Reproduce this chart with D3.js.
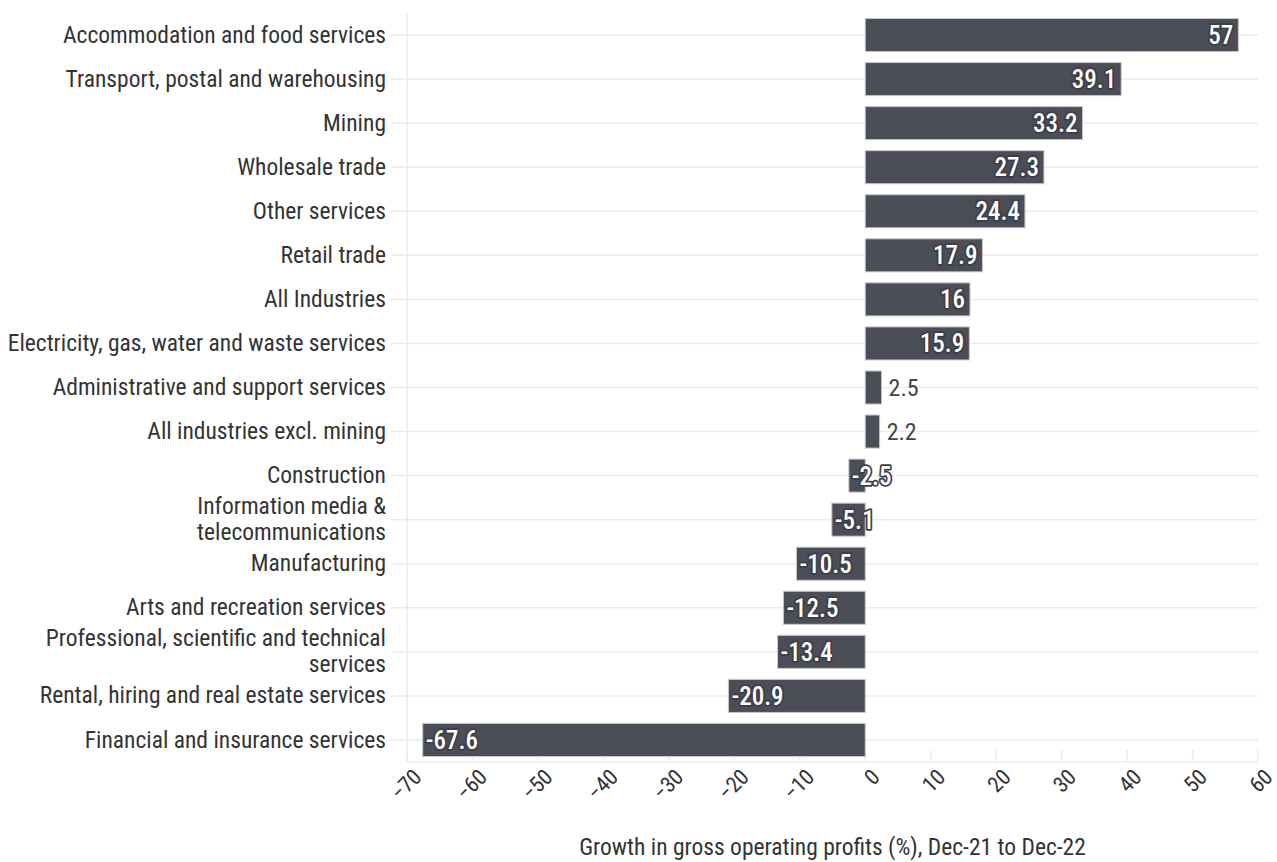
<!DOCTYPE html>
<html>
<head>
<meta charset="utf-8">
<script src="https://cdn.jsdelivr.net/npm/d3@7"></script>
<style>
  body { margin: 0; background: #fff; }
  svg text { font-family: "Roboto Condensed", "Liberation Sans Narrow", "DejaVu Sans Condensed", Roboto, sans-serif; }
  .grid line { stroke: #ebebeb; stroke-width: 1.5; }
  .axis path, .axis line { display: none; }
  .axis text { fill: #333; font-size: 23.5px; }
  .x-axis text { font-size: 22px; }
  .bar { fill: #4b4d57; stroke: #c8c8cc; stroke-width: 1; }
  .lbl-in { fill: #fff; font-size: 25px; font-weight: 500; stroke: #3c3e46; stroke-width: 3.5px; paint-order: stroke; stroke-linejoin: round; }
  .lbl-out { fill: #444; font-size: 24px; }
</style>
</head>
<body>
<div id="chart"></div>
<script>
// categories top to bottom ("\n" = line break in label)
var categories = [
    "Accommodation and food services",
    "Transport, postal and warehousing",
    "Mining",
    "Wholesale trade",
    "Other services",
    "Retail trade",
    "All Industries",
    "Electricity, gas, water and waste services",
    "Administrative and support services",
    "All industries excl. mining",
    "Construction",
    "Information media &\ntelecommunications",
    "Manufacturing",
    "Arts and recreation services",
    "Professional, scientific and technical\nservices",
    "Rental, hiring and real estate services",
    "Financial and insurance services"
];

var growth = [57, 39.1, 33.2, 27.3, 24.4, 17.9, 16, 15.9, 2.5, 2.2, -2.5, -5.1, -10.5, -12.5, -13.4, -20.9, -67.6];

var xTicks = [-70, -60, -50, -40, -30, -20, -10, 0, 10, 20, 30, 40, 50, 60];
var xTitle = "Growth in gross operating profits (%), Dec-21 to Dec-22";

var data = categories.map(function(c, i) { return { name: c, value: growth[i] }; });

var margin = { top: 13, right: 19, bottom: 100, left: 407 };
var width = 1277 - margin.left - margin.right;
var height = 862 - margin.top - margin.bottom;

var svg = d3.select("#chart").append("svg")
    .attr("width", 1277)
    .attr("height", 862)
  .append("g")
    .attr("transform", "translate(" + margin.left + "," + margin.top + ")");

var x = d3.scaleLinear()
    .domain([-70, 60])
    .range([0, width]);

var y = d3.scaleBand()
    .domain(categories)
    .range([0, height])
    .paddingInner(0.25)
    .paddingOuter(0.125);

// gridlines
svg.append("g").attr("class", "grid")
    .selectAll("line.v")
    .data(xTicks)
    .enter().append("line")
    .attr("x1", function(d) { return x(d); })
    .attr("x2", function(d) { return x(d); })
    .attr("y1", height - 12)
    .attr("y2", height);

svg.append("g").attr("class", "grid")
    .selectAll("line.h")
    .data(categories)
    .enter().append("line")
    .attr("x1", -16)
    .attr("x2", width)
    .attr("y1", function(d) { return y(d) + y.bandwidth() / 2; })
    .attr("y2", function(d) { return y(d) + y.bandwidth() / 2; });

var frame = svg.append("g").attr("class", "grid");
frame.append("line").attr("x1", 0).attr("x2", 0).attr("y1", 0).attr("y2", height);
frame.append("line").attr("x1", 0).attr("x2", width).attr("y1", height).attr("y2", height);

// y axis labels
var yAxis = svg.append("g").attr("class", "axis y-axis")
    .call(d3.axisLeft(y).tickSize(0).tickPadding(20));

yAxis.selectAll(".tick text")
    .text(null)
    .each(function(d) {
        var lines = d.split("\n");
        var t = d3.select(this);
        lines.forEach(function(l, i) {
            t.append("tspan")
                .attr("x", -21)
                .attr("dy", i === 0 ? (0.32 - (lines.length - 1) * 0.55) + "em" : "1.1em")
                .text(l);
        });
    });

// x axis
var xAxis = svg.append("g").attr("class", "axis x-axis")
    .attr("transform", "translate(0," + height + ")")
    .call(d3.axisBottom(x).tickValues(xTicks).tickSize(0).tickPadding(0));

xAxis.selectAll(".tick text")
    .attr("text-anchor", "end")
    .attr("dy", "0.35em")
    .attr("transform", "translate(10,11) rotate(-45)");

svg.append("text")
    .attr("class", "axis-title")
    .attr("x", width / 2)
    .attr("y", height + 93)
    .attr("text-anchor", "middle")
    .style("font-size", "23.5px")
    .style("fill", "#333")
    .text(xTitle);

// bars
svg.selectAll(".bar")
    .data(data)
    .enter().append("rect")
    .attr("class", "bar")
    .attr("x", function(d) { return x(Math.min(0, d.value)); })
    .attr("width", function(d) { return Math.abs(x(d.value) - x(0)); })
    .attr("y", function(d) { return y(d.name); })
    .attr("height", y.bandwidth());

// value labels
svg.selectAll(".val")
    .data(data)
    .enter().append("text")
    .attr("class", function(d) { return (d.value > 0 && d.value < 5) ? "val lbl-out" : "val lbl-in"; })
    .attr("x", function(d) {
        if (d.value > 0 && d.value < 5) return x(d.value) + 7;
        return d.value > 0 ? x(d.value) - 5 : x(d.value) + 3;
    })
    .attr("y", function(d) { return y(d.name) + y.bandwidth() / 2; })
    .attr("dy", "0.36em")
    .attr("text-anchor", function(d) { return (d.value > 5) ? "end" : "start"; })
    .text(function(d) { return d.value; });
</script>
</body>
</html>
